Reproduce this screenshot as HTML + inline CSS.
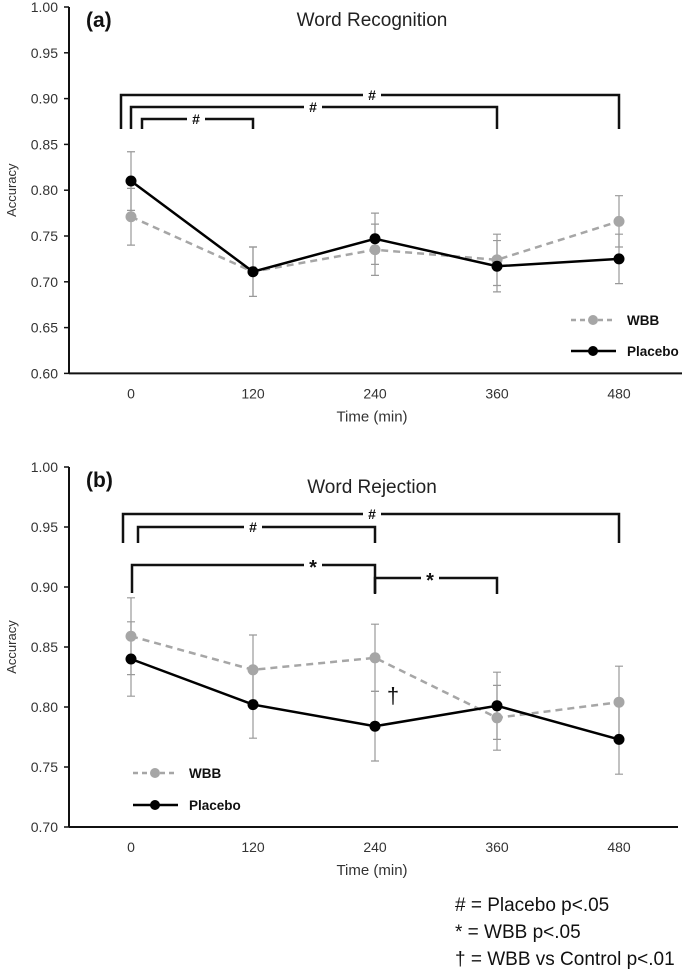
<!DOCTYPE html>
<html><head><meta charset="utf-8">
<style>
body{margin:0;background:#fff;}
svg{display:block;font-family:"Liberation Sans",sans-serif;}
</style></head>
<body>
<svg id="c" width="685" height="971" viewBox="0 0 685 971" xmlns="http://www.w3.org/2000/svg">
<g id="pa"></g>
<g id="pb"></g>
<g font-size="19" fill="#111">
<text x="455" y="911"># = Placebo p&lt;.05</text>
<text x="455" y="938">* = WBB p&lt;.05</text>
<text x="455" y="965">† = WBB vs Control p&lt;.01</text>
</g>
</svg>
<script>
const categories = ["0","120","240","360","480"];
const aWBB = [0.771, 0.711, 0.735, 0.724, 0.766];
const aWBBErr = [0.031, 0.027, 0.028, 0.028, 0.028];
const aPlacebo = [0.810, 0.711, 0.747, 0.717, 0.725];
const aPlaceboErr = [0.032, 0.027, 0.028, 0.028, 0.027];
const aTicks = ["0.60","0.65","0.70","0.75","0.80","0.85","0.90","0.95","1.00"];
const bWBB = [0.859, 0.831, 0.841, 0.791, 0.804];
const bWBBErr = [0.032, 0.029, 0.028, 0.027, 0.030];
const bPlacebo = [0.840, 0.802, 0.784, 0.801, 0.773];
const bPlaceboErr = [0.031, 0.028, 0.029, 0.028, 0.029];
const bTicks = ["0.70","0.75","0.80","0.85","0.90","0.95","1.00"];

const NS="http://www.w3.org/2000/svg";
function mk(parent,tag,attrs,text){const e=document.createElementNS(NS,tag);for(const k in attrs)e.setAttribute(k,attrs[k]);if(text!==undefined)e.textContent=text;parent.appendChild(e);return e;}
const xOf=i=>131+122*i;

function panel(g,cfg){
  const yOf=v=>cfg.top+(cfg.max-v)*cfg.pxPerUnit;
  const bottom=yOf(cfg.min);
  let e;
  e=mk(g,'line',{x1:69,y1:cfg.top,x2:69,y2:bottom,stroke:'#111','stroke-width':2});
  
  
  e=mk(g,'line',{x1:69,y1:bottom,x2:cfg.axisEnd,y2:bottom,stroke:'#111','stroke-width':2});
  
  
  cfg.ticks.forEach(t=>{
    const y=yOf(parseFloat(t));
    const l=mk(g,'line',{x1:64,y1:y,x2:69,y2:y,stroke:'#111','stroke-width':1.5});
    
    
    const tx=mk(g,'text',{x:58,y:y+5,'text-anchor':'end','font-size':14,fill:'#333'},t);
    
    
  });
  categories.forEach((c,i)=>{
    const tx=mk(g,'text',{x:xOf(i),y:bottom+25,'text-anchor':'middle','font-size':14,fill:'#333'},c);
    
    
  });
  e=mk(g,'text',{x:372,y:bottom+48,'text-anchor':'middle','font-size':15,fill:'#333'},'Time (min)');
  
  
  const cy=(cfg.top+bottom)/2;
  e=mk(g,'text',{x:16,y:cy,'text-anchor':'middle','font-size':13,fill:'#333',transform:`rotate(-90 16 ${cy})`},'Accuracy');
  
  
  e=mk(g,'text',{x:86,y:cfg.top+20,'font-size':21,'font-weight':'bold',fill:'#111'},cfg.label);
  
  
  e=mk(g,'text',{x:372,y:cfg.titleY,'text-anchor':'middle','font-size':19,fill:'#222'},cfg.title);
  
  
  cfg.brackets.forEach(b=>{
    const x1=xOf(b[0])+b[4],x2=xOf(b[1]);
    const p=mk(g,'path',{d:`M${x1},${b[3]} V${b[2]} H${x2} V${b[3]}`,fill:'none',stroke:'#111','stroke-width':2.5});
    
    
    const mx=b[6];
    const r=mk(g,'rect',{x:mx-9,y:b[2]-4,width:18,height:8,fill:'#fff'});
    
    
    const t=mk(g,'text',{x:mx,y:b[2]+(b[5]==='*'?9:5),'text-anchor':'middle','font-size':b[5]==='*'?20:14,'font-weight':'bold',fill:'#111'},b[5]);
    
    
  });
  const series=[
    {v:cfg.wbb,e:cfg.wbbErr,color:'#a6a6a6',dash:'7,5',name:'wbb'},
    {v:cfg.pla,e:cfg.plaErr,color:'#000',dash:'',name:'placebo'}];
  series.forEach(s=>{
    s.v.forEach((v,i)=>{
      const x=xOf(i),y1=yOf(v+s.e[i]),y2=yOf(v-s.e[i]);
      const eb=mk(g,'path',{d:`M${x},${y1}V${y2}M${x-4},${y1}H${x+4}M${x-4},${y2}H${x+4}`,stroke:'#999','stroke-width':1.2,fill:'none'});
      
      
    });
  });
  series.forEach(s=>{
    const pts=s.v.map((v,i)=>xOf(i)+','+yOf(v)).join(' ');
    const pl=mk(g,'polyline',{points:pts,fill:'none',stroke:s.color,'stroke-width':2.5,'stroke-dasharray':s.dash});
    
    
    s.v.forEach((v,i)=>{
      const c=mk(g,'circle',{cx:xOf(i),cy:yOf(v),r:5.5,fill:s.color});
      
      
    });
  });
  [[cfg.legY[0],'#a6a6a6','5,4','WBB','wbb'],[cfg.legY[1],'#000','','Placebo','placebo']].forEach(l=>{
    const lg=mk(g,'g',{});
    
    
    mk(lg,'line',{x1:cfg.legX,y1:l[0],x2:cfg.legX+45,y2:l[0],stroke:l[1],'stroke-width':2.5,'stroke-dasharray':l[2]});
    mk(lg,'circle',{cx:cfg.legX+22,cy:l[0],r:5,fill:l[1]});
    mk(lg,'text',{x:cfg.legX+56,y:l[0]+5,'font-size':13.5,'font-weight':'bold',fill:'#111'},l[3]);
  });
}

panel(document.getElementById('pa'),{top:7,max:1.0,min:0.60,pxPerUnit:916,ticks:aTicks,axisEnd:682,
  wbb:aWBB,wbbErr:aWBBErr,pla:aPlacebo,plaErr:aPlaceboErr,label:'(a)',title:'Word Recognition',titleY:26,
  brackets:[[0,4,95,129,-10,'#',372],[0,3,107,129,0,'#',313],[0,1,119,129,11,'#',196]],
  legX:571,legY:[320,351]});
panel(document.getElementById('pb'),{top:467,max:1.0,min:0.70,pxPerUnit:1200,ticks:bTicks,axisEnd:678,
  wbb:bWBB,wbbErr:bWBBErr,pla:bPlacebo,plaErr:bPlaceboErr,label:'(b)',title:'Word Rejection',titleY:493,
  brackets:[[0,4,514,543,-8,'#',372],[0,2,527,543,7,'#',253],[0,2,565,593,1,'*',313],[2,3,578,594,0,'*',430]],
  legX:133,legY:[773,805]});
const d=document.createElementNS(NS,'text');
d.setAttribute('x',393);d.setAttribute('y',703);d.setAttribute('text-anchor','middle');d.setAttribute('font-size',22);d.setAttribute('fill','#111');
d.textContent='†';


document.getElementById('pb').appendChild(d);
</script>
</body></html>
